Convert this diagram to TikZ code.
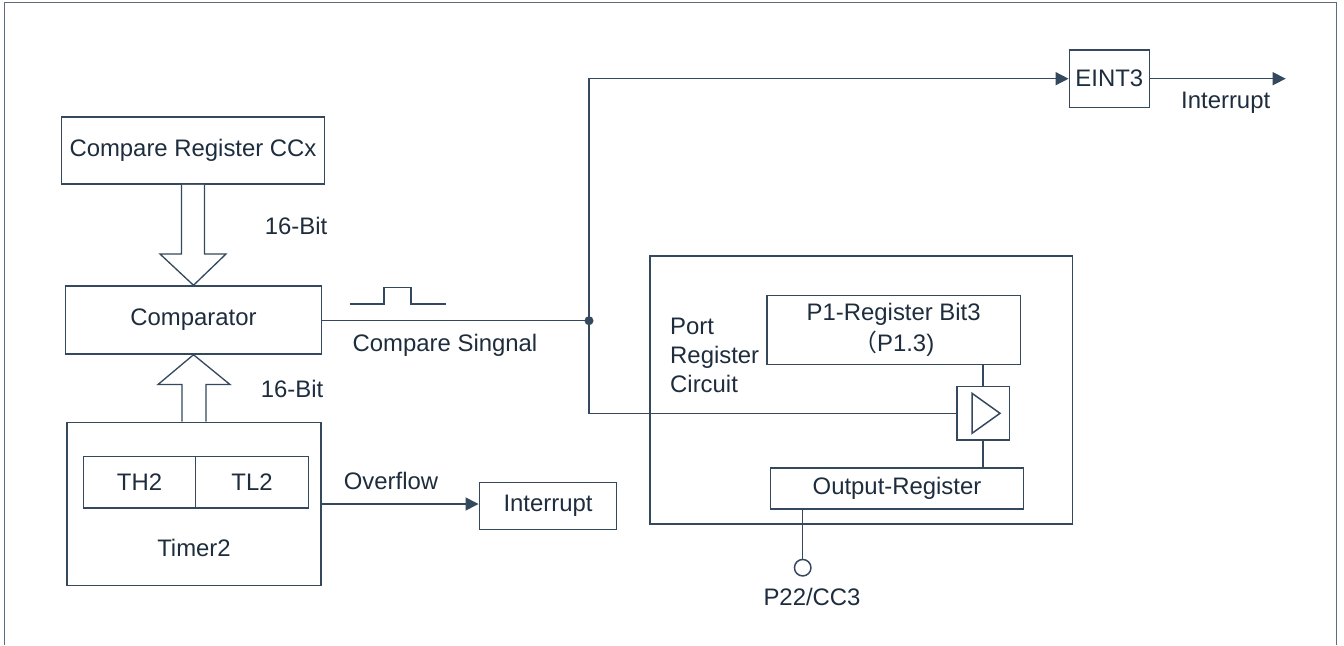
\documentclass[tikz,border=0pt]{standalone}
\usepackage{fontspec}
\setmainfont{Liberation Sans}
\newfontfamily\cjkfont{Noto Sans CJK SC}
\usepackage{xcolor}
\usetikzlibrary{positioning,calc,arrows.meta}
\definecolor{linec}{HTML}{34495E}
\definecolor{textc}{HTML}{1E2D3D}
\tikzset{
    every node/.style={text=textc, font=\fontsize{13.6}{16.5}\selectfont},
    blockbox/.style={draw=linec, line width=0.85pt, inner sep=0pt},
    wire/.style={draw=linec, line width=0.85pt},
    sigarrow/.style={wire, -{Triangle[length=0.26cm,width=0.26cm]}},
    fatarrow/.style={draw=linec, line width=0.75pt, fill=white}
}

\begin{document}
\begin{tikzpicture}[x=0.02cm, y=-0.02cm]
    \useasboundingbox (0,0) rectangle (1344,645);

    % Outer frame (open at the bottom)
    \draw[linec!80, line width=0.75pt] (4.5,645) -- (4.5,2.7) -- (1336.7,2.7) -- (1336.7,645);

    % Timer side
    \node[blockbox, minimum width=5.26cm, minimum height=1.35cm] (ccx) at (193,150.5) {Compare Register CCx};
    \node[blockbox, minimum width=5.12cm, minimum height=1.36cm] (cmp) at (193.5,320) {Comparator};
    \node[blockbox, minimum width=5.08cm, minimum height=3.27cm] (tmr) at (194,504) {};
    \node[blockbox, minimum width=2.24cm, minimum height=1.03cm] (th2) at (139.5,482.3) {TH2};
    \node[blockbox, minimum width=2.26cm, minimum height=1.03cm] (tl2) at (252,482.3) {TL2};
    \node (tmrlabel) at (194,548) {Timer2};
    \node[blockbox, minimum width=2.75cm, minimum height=0.95cm] (irq) at (548,506) {Interrupt};

    % Hollow bus arrows (16 bit)
    \draw[fatarrow] ($(ccx.south)+(-11.5,0)$) -- ($(ccx.south)+(-11.5,69)$) -- ($(ccx.south)+(-33,69)$)
        -- (cmp.north) -- ($(ccx.south)+(33,69)$) -- ($(ccx.south)+(11.5,69)$) -- ($(ccx.south)+(11.5,0)$);
    \draw[fatarrow] ($(tmr.north)+(-12,0)$) -- ($(tmr.north)+(-12,-37)$) -- ($(tmr.north)+(-36,-37)$)
        -- (cmp.south) -- ($(tmr.north)+(36,-37)$) -- ($(tmr.north)+(12,-37)$) -- ($(tmr.north)+(12,0)$);
    \node (bitA) at (296,226) {16-Bit};
    \node (bitB) at (292,389) {16-Bit};

    % Overflow
    \draw[sigarrow] (tmr.east |- irq.west) ++(0,-2) -- ($(irq.west)+(0,-2)$);
    \node (ovf) at (391,481) {Overflow};

    % Compare signal with pulse symbol
    \coordinate (split) at (589,320.7);
    \draw[wire] (cmp.east |- split) -- (split);
    \fill[linec] (split) circle (0.09cm);
    \draw[wire] (349.6,304) -- (384,304) -- (384,287.7) -- (411,287.7) -- (411,304) -- (446,304);
    \node (cmpsig) at (445,345) {Compare Singnal};

    % External interrupt path
    \node[blockbox, minimum width=1.6cm, minimum height=1.15cm] (eint) at (1109.3,78.7) {EINT3};
    \coordinate (irqout) at (1285.7,78.7);
    \draw[sigarrow] (split) |- (eint.west);
    \draw[sigarrow] (eint.east) -- (irqout);
    \node (irqtxt) at (1225.7,102.3) {Interrupt};

    % Port register circuit
    \node[blockbox, minimum width=8.45cm, minimum height=5.37cm] (port) at (861.4,390) {};
    \node[align=left, anchor=west] (portlabel) at (664,355.7) {Port\\Register\\Circuit};
    \node[blockbox, align=center, minimum width=5.07cm, minimum height=1.38cm,
          font=\fontsize{13.6}{17.7}\selectfont] (p1) at (893.7,329.8) {P1-Register Bit3\\{\cjkfont （}P1.3)};
    \node[blockbox, minimum width=1.05cm, minimum height=1.07cm] (buf) at (983,413.3) {};
    \draw[wire] ($(buf)+(-11,-20)$) -- ($(buf)+(17,0)$) -- ($(buf)+(-11,20)$) -- cycle;
    \node[blockbox, minimum width=5.07cm, minimum height=0.82cm] (outreg) at (897,488.5) {Output-Register};
    \draw[wire] (split) |- (buf.west);
    \draw[wire] (buf.north) -- (buf.north |- p1.south);
    \draw[wire] (buf.south) -- (buf.south |- outreg.north);

    % Output pin
    \node[draw=linec, line width=0.85pt, circle, minimum size=0.33cm, inner sep=0pt] (pin) at (802.7,567.7) {};
    \draw[wire] (outreg.south -| pin) -- (pin.north);
    \node (pinlabel) at (812,596.7) {P22/CC3};

\end{tikzpicture}
\end{document}
